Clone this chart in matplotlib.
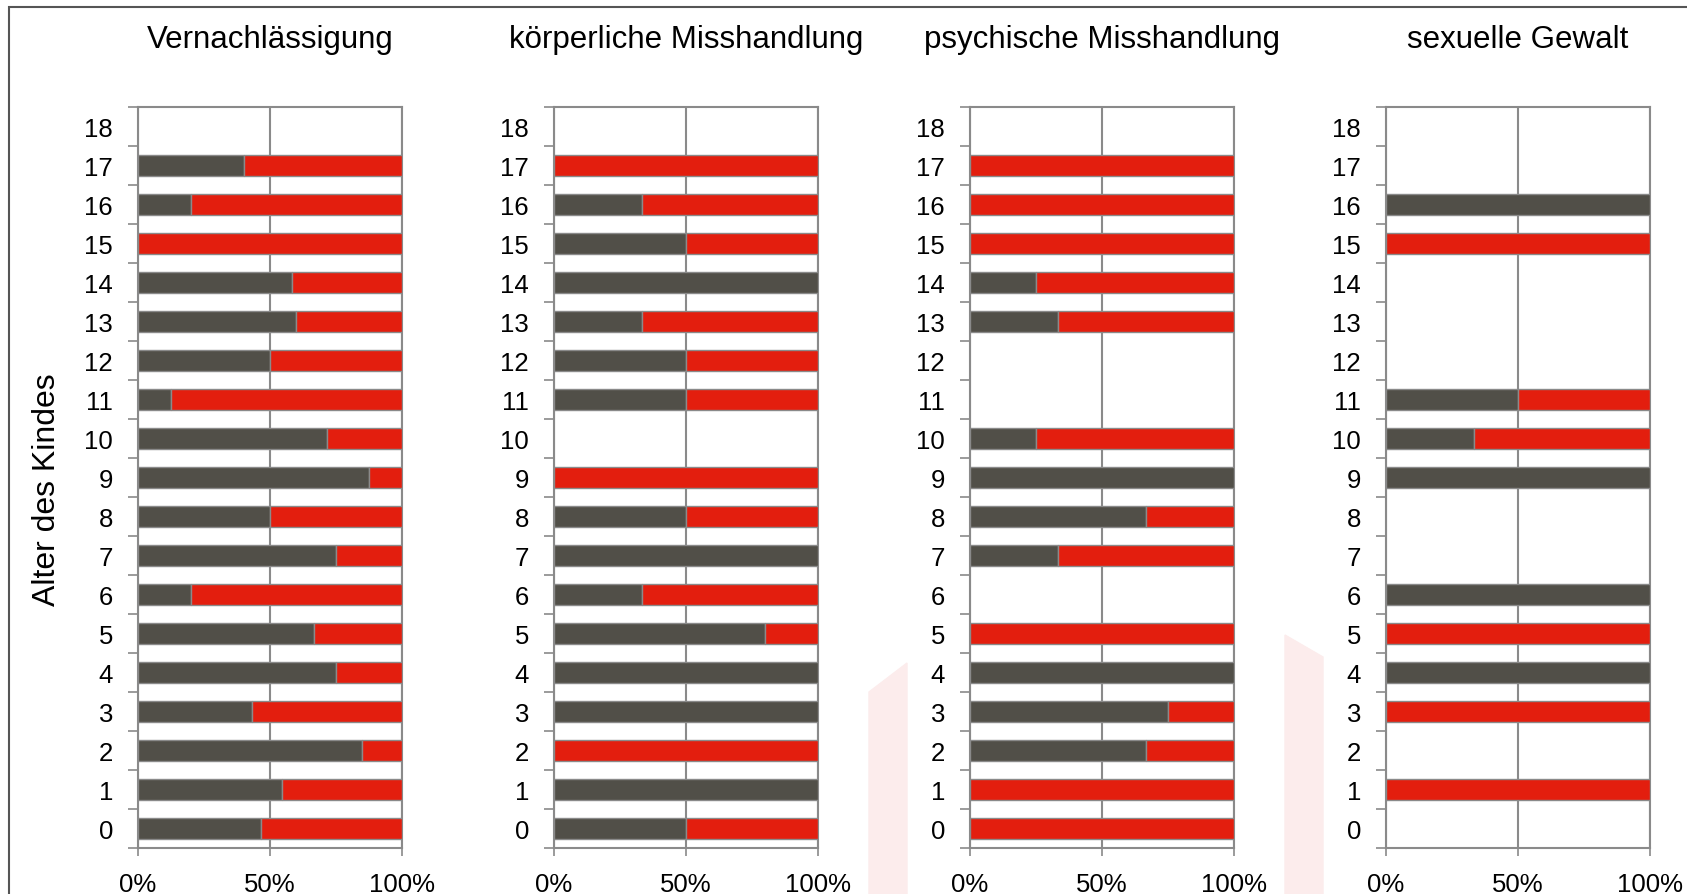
import numpy as np
import matplotlib.pyplot as plt
from matplotlib.patches import Rectangle, Polygon

plt.rcParams['font.family'] = ['Liberation Sans', 'DejaVu Sans']

# Alter des Kindes 0..18, Anteil dunkelgrau (nan = keine Faelle)
nan = np.nan
ages = list(range(19))
titles = ['Vernachlässigung', 'körperliche Misshandlung',
          'psychische Misshandlung', 'sexuelle Gewalt']

vernachlaessigung = [0.465, 0.545, 0.85, 0.43, 0.75, 0.667, 0.2, 0.75, 0.5,
                     0.875, 0.715, 0.125, 0.5, 0.6, 0.585, 0.0, 0.2, 0.4, nan]
koerperlich = [0.5, 1.0, 0.0, 1.0, 1.0, 0.8, 0.333, 1.0, 0.5,
               0.0, nan, 0.5, 0.5, 0.333, 1.0, 0.5, 0.333, 0.0, nan]
psychisch = [0.0, 0.0, 0.667, 0.75, 1.0, 0.0, nan, 0.333, 0.667,
             1.0, 0.25, nan, nan, 0.333, 0.25, 0.0, 0.0, 0.0, nan]
sexuell = [nan, 0.0, nan, 0.0, 1.0, 0.0, 1.0, nan, nan,
           1.0, 0.333, 0.5, nan, nan, nan, 0.0, 1.0, nan, nan]

series = [vernachlaessigung, koerperlich, psychisch, sexuell]

dark = '#514f48'
red = '#e31e0e'
edge = '#8a8a8a'
W, H = 1687, 895

fig = plt.figure(figsize=(W / 100, H / 100), dpi=100)

# watermark shapes in the background
wm = '#fcecec'
fig.patches.append(Polygon([(869 / W, 0), (869 / W, 1 - 693 / H), (907 / W, 1 - 664 / H), (907 / W, 0)],
                           closed=True, transform=fig.transFigure, color=wm, zorder=0))
fig.patches.append(Polygon([(1285 / W, 0), (1285 / W, 1 - 636 / H), (1323 / W, 1 - 658 / H), (1323 / W, 0)],
                           closed=True, transform=fig.transFigure, color=wm, zorder=0))
# frame
fig.patches.append(Rectangle((9 / W, -0.1), 1.2, 1 - 8 / H + 0.1, transform=fig.transFigure,
                             fill=False, edgecolor='#555555', linewidth=1.5, zorder=1))

lefts = [138, 554, 970, 1386]
for i, vals in enumerate(series):
    ax = fig.add_axes([lefts[i] / W, 1 - 849 / H, 264 / W, (849 - 108) / H])
    ax.patch.set_alpha(0)
    y = np.array(ages)
    g = np.array(vals, dtype=float)
    ok = ~np.isnan(g)
    gy, gv = y[ok], g[ok]
    m = gv > 0
    ax.barh(gy[m], gv[m], height=0.52, color=dark, edgecolor=edge, linewidth=1.0, zorder=3)
    r = gv < 1
    ax.barh(gy[r], 1 - gv[r], left=gv[r], height=0.52, color=red, edgecolor=edge,
            linewidth=1.0, zorder=3)

    ax.set_xlim(0, 1)
    ax.set_ylim(-0.5, 18.5)
    ax.set_xticks([0, 0.5, 1])
    ax.set_xticklabels(['0%', '50%', '100%'])
    ax.set_yticks(ages)
    ax.set_yticklabels([str(a) for a in ages])
    ax.set_yticks(np.arange(-0.5, 19, 1), minor=True)
    ax.tick_params(axis='y', which='major', length=0, pad=18, labelsize=18.5)
    ax.tick_params(axis='y', which='minor', length=7, width=1.2, color=edge)
    ax.tick_params(axis='x', length=6, width=1.2, color=edge, pad=11, labelsize=18.5)
    ax.grid(axis='x', color=edge, linewidth=1.5, zorder=0)
    for s in ax.spines.values():
        s.set_color(edge)
        s.set_linewidth(1.5)
    fig.text((lefts[i] + 132) / W, 1 - 40 / H, titles[i], ha='center', va='center', fontsize=22.5)

fig.text(47 / W, 1 - 490 / H, 'Alter des Kindes', rotation=90, ha='center', va='center', fontsize=23)

fig.savefig('out.png', dpi=100)
